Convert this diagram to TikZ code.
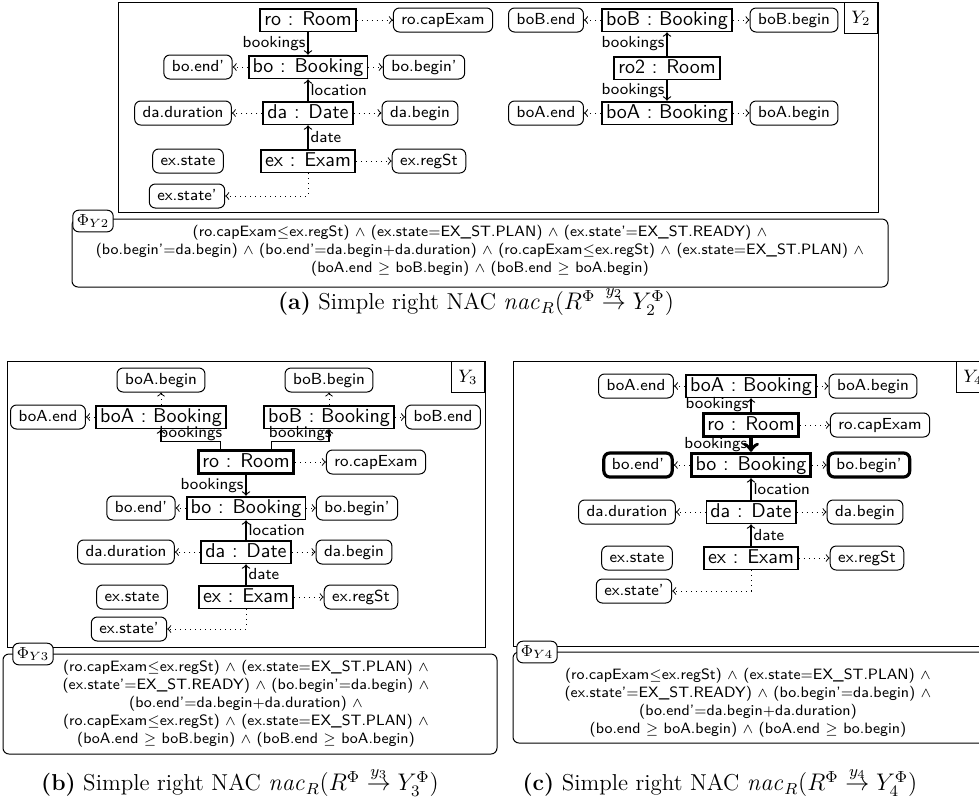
\documentclass[tikz,border=0pt]{standalone}
\usepackage{amsmath}
\usepackage{amssymb}
\usetikzlibrary{positioning, calc}

\tikzset{
  ent/.style={draw, fill=white, line width=0.9pt, inner xsep=2pt, inner ysep=1.2pt,
    text height=7pt, text depth=2pt, font=\fontsize{10}{12}\sffamily},
  entB/.style={ent, line width=1.8pt},
  att/.style={draw, rounded corners=3pt, line width=0.5pt, inner xsep=4pt, inner ysep=2pt,
    text height=6pt, text depth=2pt, font=\fontsize{8}{10}\sffamily},
  attB/.style={att, line width=1.6pt},
  lbl/.style={font=\fontsize{8}{10}\sffamily, inner sep=1pt},
  rel/.style={->, line width=0.6pt},
  relB/.style={->, line width=1.8pt},
  prop/.style={->, dotted, line width=0.5pt},
  frm/.style={line width=0.5pt},
  ytag/.style={draw, line width=0.5pt, anchor=north east, minimum width=16.5pt,
    minimum height=15.5pt, inner sep=1pt, font=\fontsize{9}{10}\selectfont},
  phibox/.style={rounded corners=3pt, line width=0.5pt},
  philbl/.style={draw, fill=white, rounded corners=3pt, line width=0.5pt, inner sep=2pt,
    font=\fontsize{8}{10}\selectfont},
  formula/.style={align=center, font=\fontsize{7.5}{9}\sffamily},
  subcap/.style={font=\fontsize{11.5}{13}\selectfont}
}

\begin{document}
\begin{tikzpicture}[x=0.5pt, y=-0.5pt]
  \clip (0,0) rectangle (979,805);

  % (a) Y2
  \draw[frm] (118,2) rectangle (878,212);
  \node[ytag] (a-tag) at (878,2) {$Y_2$};

  \node[ent] (a-ro) at (308,20) {ro : Room};
  \node[att] (a-rocap) at (443,20) {ro.capExam};
  \node[ent] (a-bo) at (308,67) {bo : Booking};
  \node[att] (a-boend) at (198,67) {bo.end'};
  \node[att] (a-bobeg) at (424,67) {bo.begin'};
  \node[ent] (a-da) at (308,113) {da : Date};
  \node[att] (a-dadur) at (183,113) {da.duration};
  \node[att] (a-dabeg) at (420,113) {da.begin};
  \node[ent] (a-ex) at (308,161) {ex : Exam};
  \node[att] (a-exst) at (188,161) {ex.state};
  \node[att] (a-exreg) at (429,161) {ex.regSt};
  \node[att] (a-exst2) at (187,196) {ex.state'};

  \node[att] (a-boBend) at (546,20) {boB.end};
  \node[ent] (a-boB) at (667,20) {boB : Booking};
  \node[att] (a-boBbeg) at (794,20) {boB.begin};
  \node[ent] (a-ro2) at (667,68) {ro2 : Room};
  \node[att] (a-boAend) at (546,113) {boA.end};
  \node[ent] (a-boA) at (667,113) {boA : Booking};
  \node[att] (a-boAbeg) at (794,113) {boA.begin};

  \draw[rel] (a-ro) -- node[lbl, left] {bookings} (a-bo);
  \draw[rel] (a-da) -- node[lbl, right] {location} (a-bo);
  \draw[rel] (a-ex) -- node[lbl, right] {date} (a-da);
  \draw[rel] (a-ro2) -- node[lbl, left] {bookings} (a-boB);
  \draw[rel] (a-ro2) -- node[lbl, left] {bookings} (a-boA);

  \draw[prop] (a-ro) -- (a-rocap);
  \draw[prop] (a-bo) -- (a-boend);
  \draw[prop] (a-bo) -- (a-bobeg);
  \draw[prop] (a-da) -- (a-dadur);
  \draw[prop] (a-da) -- (a-dabeg);
  \draw[prop] (a-ex) -- (a-exreg);
  \draw[prop] (a-ex) |- (a-exst2);
  \draw[prop] (a-boB) -- (a-boBend);
  \draw[prop] (a-boB) -- (a-boBbeg);
  \draw[prop] (a-boA) -- (a-boAend);
  \draw[prop] (a-boA) -- (a-boAbeg);

  \draw[phibox] (72,219) rectangle (888,287);
  \node[philbl] (a-phi) at (93,221) {$\Phi_{Y2}$};
  \node[formula] (a-form) at (480,251) {%
    (ro.capExam$\leq$ex.regSt) $\wedge$ (ex.state$=$EX\_ST.PLAN) $\wedge$ (ex.state'$=$EX\_ST.READY) $\wedge$\\
    (bo.begin'$=$da.begin) $\wedge$ (bo.end'$=$da.begin$+$da.duration) $\wedge$ (ro.capExam$\leq$ex.regSt) $\wedge$ (ex.state$=$EX\_ST.PLAN) $\wedge$\\
    (boA.end $\geq$ boB.begin) $\wedge$ (boB.end $\geq$ boA.begin)};
  \node[subcap] (a-cap) at (476,301) {\textbf{(a)} Simple right NAC $\mathit{nac}_R(R^\Phi \stackrel{y_2}{\rightarrow} Y_2^\Phi)$};

  % (b) Y3
  \draw[frm] (7,361) rectangle (485,647);
  \node[ytag] (b-tag) at (485,361) {$Y_3$};

  \node[att] (b-boAbeg) at (161,380) {boA.begin};
  \node[att] (b-boBbeg) at (329,380) {boB.begin};
  \node[att] (b-boAend) at (48,417) {boA.end};
  \node[ent] (b-boA) at (161,417) {boA : Booking};
  \node[ent] (b-boB) at (329,417) {boB : Booking};
  \node[att] (b-boBend) at (443,417) {boB.end};
  \node[entB] (b-ro) at (246,462) {ro : Room};
  \node[att] (b-rocap) at (376,462) {ro.capExam};
  \node[ent] (b-bo) at (246,508) {bo : Booking};
  \node[att] (b-boend) at (141,508) {bo.end'};
  \node[att] (b-bobeg) at (357,508) {bo.begin'};
  \node[ent] (b-da) at (246,552) {da : Date};
  \node[att] (b-dadur) at (126,552) {da.duration};
  \node[att] (b-dabeg) at (354,552) {da.begin};
  \node[ent] (b-ex) at (246,597) {ex : Exam};
  \node[att] (b-exst) at (132,597) {ex.state};
  \node[att] (b-exreg) at (361,597) {ex.regSt};
  \node[att] (b-exst2) at (129,629) {ex.state'};

  \draw[rel] ([xshift=12pt]b-ro.north west) -- ++(0,-7)
    -| node[pos=0.25, lbl, above=-1pt] {bookings} (b-boA.south);
  \draw[rel] ([xshift=-12pt]b-ro.north east) -- ++(0,-7)
    -| node[pos=0.25, lbl, above=-1pt] {bookings} (b-boB.south);
  \draw[rel] (b-ro) -- node[lbl, left] {bookings} (b-bo);
  \draw[rel] (b-da) -- node[lbl, right] {location} (b-bo);
  \draw[rel] (b-ex) -- node[lbl, right] {date} (b-da);

  \draw[prop] (b-boA) -- (b-boAbeg);
  \draw[prop] (b-boA) -- (b-boAend);
  \draw[prop] (b-boB) -- (b-boBbeg);
  \draw[prop] (b-boB) -- (b-boBend);
  \draw[prop] (b-ro) -- (b-rocap);
  \draw[prop] (b-bo) -- (b-boend);
  \draw[prop] (b-bo) -- (b-bobeg);
  \draw[prop] (b-da) -- (b-dadur);
  \draw[prop] (b-da) -- (b-dabeg);
  \draw[prop] (b-ex) -- (b-exreg);
  \draw[prop] (b-ex) |- (b-exst2);

  \draw[phibox] (3,654) rectangle (497,754);
  \node[philbl] (b-phi) at (33,654) {$\Phi_{Y3}$};
  \node[formula] (b-form) at (246,704) {%
    (ro.capExam$\leq$ex.regSt) $\wedge$ (ex.state$=$EX\_ST.PLAN) $\wedge$\\
    (ex.state'$=$EX\_ST.READY) $\wedge$ (bo.begin'$=$da.begin) $\wedge$\\
    (bo.end'$=$da.begin$+$da.duration) $\wedge$\\
    (ro.capExam$\leq$ex.regSt) $\wedge$ (ex.state$=$EX\_ST.PLAN) $\wedge$\\
    (boA.end $\geq$ boB.begin) $\wedge$ (boB.end $\geq$ boA.begin)};
  \node[subcap] (b-cap) at (240,782) {\textbf{(b)} Simple right NAC $\mathit{nac}_R(R^\Phi \stackrel{y_3}{\rightarrow} Y_3^\Phi)$};

  % (c) Y4
  \draw[frm] (513,361) rectangle (990,646);
  \node[ytag] (c-tag) at (990,361) {$Y_4$};

  \node[att] (c-boAend) at (636,386) {boA.end};
  \node[ent] (c-boA) at (751,386) {boA : Booking};
  \node[att] (c-boAbeg) at (873,386) {boA.begin};
  \node[entB] (c-ro) at (751,425) {ro : Room};
  \node[att] (c-rocap) at (880,425) {ro.capExam};
  \node[entB] (c-bo) at (751,465) {bo : Booking};
  \node[attB] (c-boend) at (638,465) {bo.end'};
  \node[attB] (c-bobeg) at (869,465) {bo.begin'};
  \node[ent] (c-da) at (751,512) {da : Date};
  \node[att] (c-dadur) at (627,512) {da.duration};
  \node[att] (c-dabeg) at (865,512) {da.begin};
  \node[ent] (c-ex) at (751,558) {ex : Exam};
  \node[att] (c-exst) at (637,558) {ex.state};
  \node[att] (c-exreg) at (867,558) {ex.regSt};
  \node[att] (c-exst2) at (634,591) {ex.state'};

  \draw[rel] (c-ro) -- node[lbl, left] {bookings} (c-boA);
  \draw[relB] (c-ro) -- node[lbl, left] {bookings} (c-bo);
  \draw[rel] (c-da) -- node[lbl, right] {location} (c-bo);
  \draw[rel] (c-ex) -- node[lbl, right] {date} (c-da);

  \draw[prop] (c-boA) -- (c-boAend);
  \draw[prop] (c-boA) -- (c-boAbeg);
  \draw[prop] (c-ro) -- (c-rocap);
  \draw[prop] (c-bo) -- (c-boend);
  \draw[prop] (c-bo) -- (c-bobeg);
  \draw[prop] (c-da) -- (c-dadur);
  \draw[prop] (c-da) -- (c-dabeg);
  \draw[prop] (c-ex) -- (c-exreg);
  \draw[prop] (c-ex) |- (c-exst2);

  \draw[phibox] (513,652) rectangle (1005,743);
  \node[philbl] (c-phi) at (537,652) {$\Phi_{Y4}$};
  \node[formula] (c-form) at (748,703) {%
    (ro.capExam$\leq$ex.regSt) $\wedge$ (ex.state$=$EX\_ST.PLAN) $\wedge$\\
    (ex.state'$=$EX\_ST.READY) $\wedge$ (bo.begin'$=$da.begin) $\wedge$\\
    (bo.end'$=$da.begin$+$da.duration)\\
    (bo.end $\geq$ boA.begin) $\wedge$ (boA.end $\geq$ bo.begin)};
  \node[subcap] (c-cap) at (720,782) {\textbf{(c)} Simple right NAC $\mathit{nac}_R(R^\Phi \stackrel{y_4}{\rightarrow} Y_4^\Phi)$};
\end{tikzpicture}
\end{document}
